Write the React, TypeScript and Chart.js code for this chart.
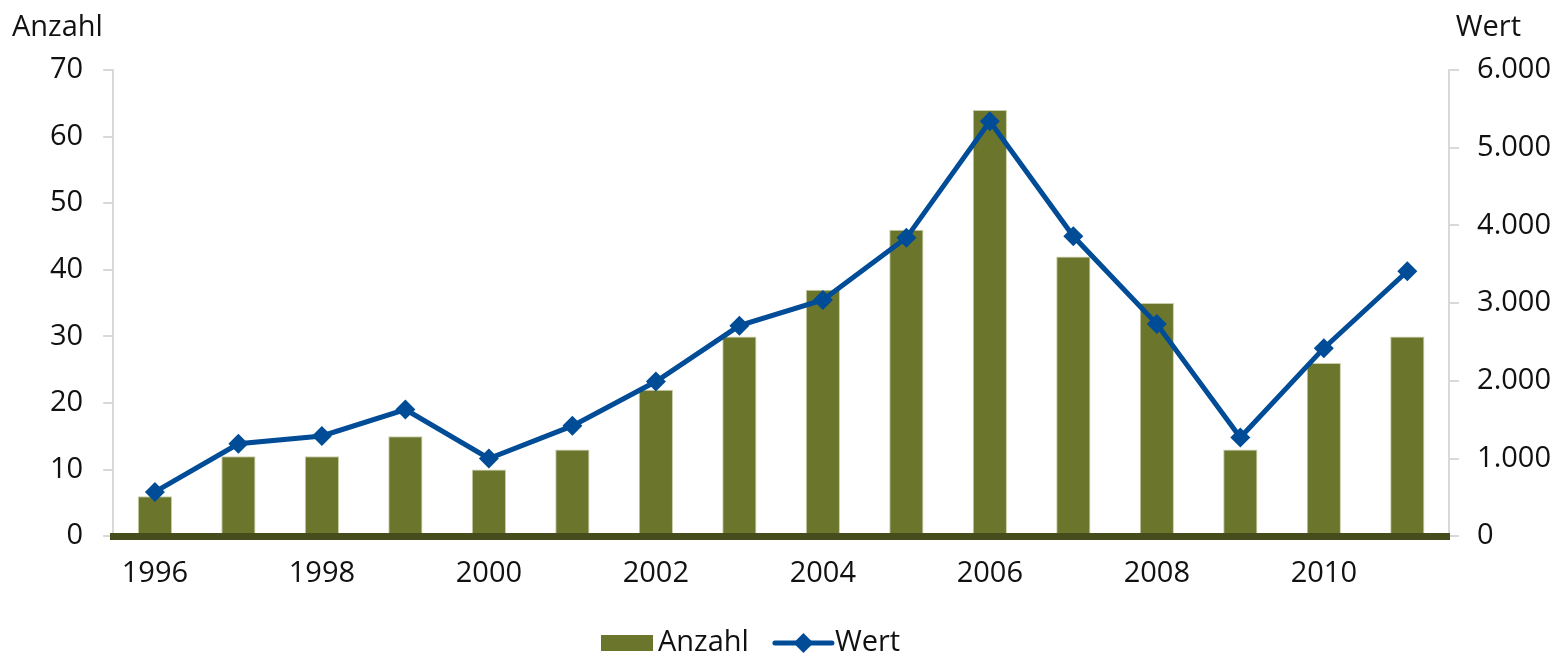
import React, { useEffect, useRef } from "react";
import { Chart, registerables } from "chart.js";

Chart.register(...registerables);

const years = ["1996","1997","1998","1999","2000","2001","2002","2003","2004","2005","2006","2007","2008","2009","2010","2011"];
const anzahl = [6, 12, 12, 15, 10, 13, 22, 30, 37, 46, 64, 42, 35, 13, 26, 30];
const wert = [570, 1190, 1290, 1630, 1000, 1420, 1990, 2710, 3040, 3840, 5340, 3860, 2730, 1270, 2420, 3410];
const leftTitle = "Anzahl";
const rightTitle = "Wert";

const FONT = "'Open Sans', 'Noto Sans', sans-serif";
const FS = 29;
const BAR_COLOR = "#6b762c";
const LINE_COLOR = "#004c97";
const AXIS_GRAY = "#d9d9d9";

const fmt = (v: number) => {
  const s = Math.round(v).toString();
  return s.replace(/\B(?=(\d{3})+(?!\d))/g, ".");
};

const overlayPlugin = {
  id: "overlay",
  afterDraw(chart: any) {
    const ctx = chart.ctx;
    const area = chart.chartArea;
    ctx.save();
    ctx.font = `${FS}px ${FONT}`;
    ctx.fillStyle = "#111";
    ctx.textBaseline = "middle";
    ctx.textAlign = "left";
    ctx.fillText(leftTitle, 12, 28);
    ctx.textAlign = "right";
    ctx.fillText(rightTitle, area.right + 72, 28);

    // legend
    const y = chart.height - 14;
    ctx.textAlign = "left";
    const w1 = ctx.measureText("Anzahl").width;
    let x = chart.width / 2 - 182;
    ctx.fillStyle = BAR_COLOR;
    ctx.fillRect(x, y - 8, 52, 16);
    x += 57;
    ctx.fillStyle = "#111";
    ctx.fillText("Anzahl", x, y);
    x += w1 + 26;
    ctx.strokeStyle = LINE_COLOR;
    ctx.lineWidth = 5;
    ctx.lineCap = "round";
    ctx.beginPath();
    ctx.moveTo(x, y);
    ctx.lineTo(x + 57, y);
    ctx.stroke();
    const dx = x + 28.5;
    ctx.fillStyle = LINE_COLOR;
    ctx.beginPath();
    ctx.moveTo(dx, y - 10);
    ctx.lineTo(dx + 10, y);
    ctx.lineTo(dx, y + 10);
    ctx.lineTo(dx - 10, y);
    ctx.closePath();
    ctx.fill();
    x += 60;
    ctx.fillStyle = "#111";
    ctx.fillText("Wert", x, y);
    ctx.restore();
  },
};

export default function App() {
  const ref = useRef<HTMLCanvasElement>(null);
  useEffect(() => {
    if (!ref.current) return;
    const chart = new Chart(ref.current, {
      type: "bar",
      data: {
        labels: years,
        datasets: [
          {
            type: "line",
            label: "Wert",
            data: wert,
            yAxisID: "y1",
            borderColor: LINE_COLOR,
            backgroundColor: LINE_COLOR,
            borderWidth: 5,
            pointStyle: "rectRot",
            pointRadius: 10,
            pointBorderWidth: 0,
            tension: 0,
            order: 0,
          } as any,
          {
            type: "bar",
            label: "Anzahl",
            data: anzahl,
            yAxisID: "y",
            backgroundColor: BAR_COLOR,
            borderColor: "#c9cda8",
            borderWidth: 1,
            categoryPercentage: 1,
            barPercentage: 0.41,
            order: 1,
          },
        ],
      },
      options: {
        responsive: true,
        maintainAspectRatio: false,
        animation: false,
        layout: { padding: { top: 70, left: 30, right: -3, bottom: 46 } },
        plugins: {
          legend: { display: false },
          tooltip: { enabled: false },
        },
        scales: {
          x: {
            grid: { display: false, drawTicks: false },
            border: { display: true, color: "#464c1c", width: 7, z: 1 },
            ticks: {
              autoSkip: false,
              maxRotation: 0,
              padding: 20,
              color: "#111",
              font: { family: FONT, size: FS },
              callback: (_v: any, i: number) => (i % 2 === 0 ? years[i] : ""),
            },
          },
          y: {
            position: "left",
            min: 0,
            max: 70,
            ticks: {
              stepSize: 10,
              padding: 20,
              color: "#111",
              font: { family: FONT, size: FS },
            },
            grid: {
              drawOnChartArea: false,
              drawTicks: true,
              tickLength: 10,
              color: AXIS_GRAY,
              lineWidth: 2,
            },
            border: { display: true, color: AXIS_GRAY, width: 2 },
          },
          y1: {
            position: "right",
            min: 0,
            max: 6000,
            ticks: {
              stepSize: 1000,
              padding: 18,
              color: "#111",
              font: { family: FONT, size: FS },
              callback: (v: any) => fmt(Number(v)),
            },
            grid: {
              drawOnChartArea: false,
              drawTicks: true,
              tickLength: 10,
              color: AXIS_GRAY,
              lineWidth: 2,
            },
            border: { display: true, color: AXIS_GRAY, width: 2 },
          },
        },
      },
      plugins: [overlayPlugin],
    });
    return () => chart.destroy();
  }, []);
  return (
    <div style={{ position: "fixed", left: 0, top: 0, width: 1566, height: 657, background: "#fff" }}>
      <canvas ref={ref} />
    </div>
  );
}
